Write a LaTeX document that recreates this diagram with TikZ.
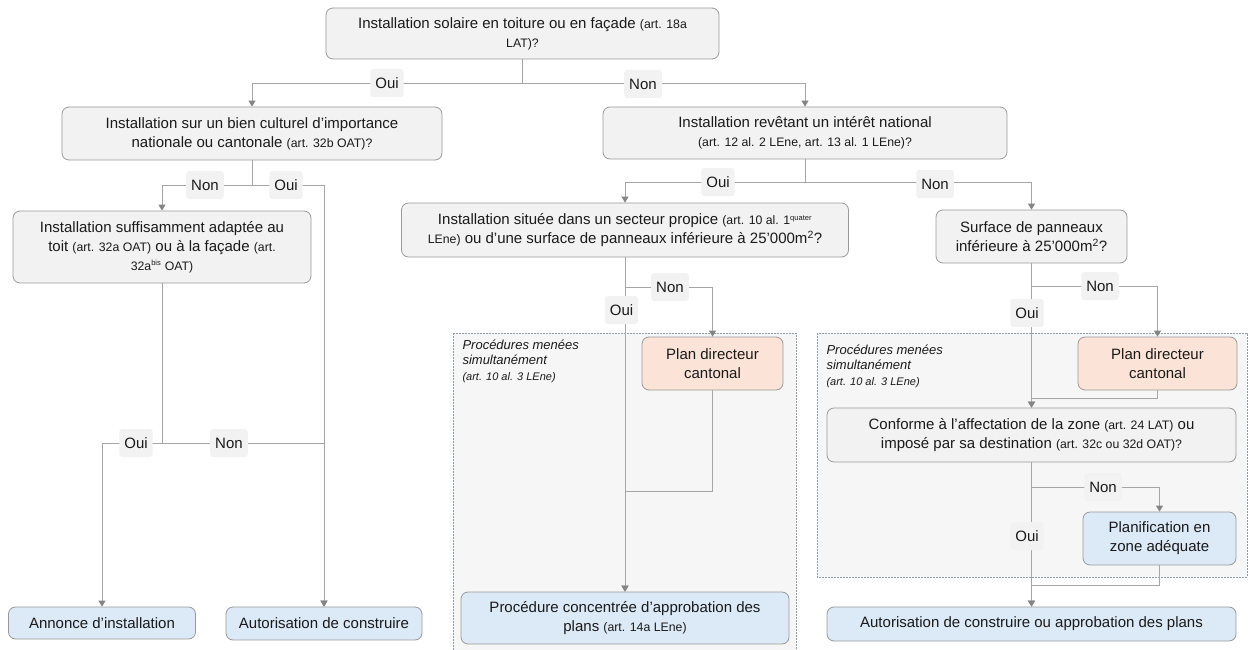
\documentclass[tikz,border=0pt]{standalone}
\usepackage{fontspec}
\setmainfont{Liberation Sans}
\usetikzlibrary{arrows.meta}
\definecolor{boxgray}{HTML}{F2F2F2}
\definecolor{lineg}{HTML}{A6A6A6}
\definecolor{borderg}{HTML}{9A9A9A}
\definecolor{arrowg}{HTML}{858585}
\definecolor{bluef}{HTML}{DCE9F6}
\definecolor{orangef}{HTML}{FBE4D7}
\definecolor{groupf}{HTML}{F6F6F6}
\definecolor{groupb}{HTML}{8E9CA3}
\definecolor{txt}{HTML}{1A1A1A}
\newcommand{\smtxt}[1]{{\fontsize{12.3}{12}\selectfont #1}}
\newcommand{\suptxt}[1]{\textsuperscript{\fontsize{7.5}{8}\selectfont #1}}
\begin{document}
\begin{tikzpicture}[x=1pt,y=-1pt,
  box/.style={draw=borderg, rounded corners=7pt, fill=boxgray, align=center,
    font=\fontsize{15}{19}\selectfont, text=txt, inner sep=2pt, line width=0.8pt},
  bluebox/.style={box, fill=bluef},
  orangebox/.style={box, fill=orangef},
  conn/.style={draw=lineg, line width=0.9pt},
  arr/.style={conn, -{Triangle[width=7pt,length=6pt,color=arrowg]}},
  lab/.style={fill=boxgray, rounded corners=3pt, text=txt, font=\fontsize{15}{16}\selectfont,
    minimum height=28pt, inner xsep=5pt},
  grp/.style={draw=groupb, fill=groupf, line width=0.8pt, dash pattern=on 1.6pt off 1.4pt},
  grplab/.style={anchor=north west, align=left, text=txt, font=\itshape\fontsize{13}{15.5}\selectfont}
]
\useasboundingbox (0,0) rectangle (1250,650);
\fill[white] (0,0) rectangle (1250,650);

% groups
\path[grp] (453,333) rectangle (796,660);
\path[grp] (817,333) rectangle (1247,577);
\node[grplab] (g1lab) at (459,336) {Procédures menées\\simultanément\\{\fontsize{11}{13}\selectfont(art. 10 al. 3 LEne)}};
\node[grplab] (g2lab) at (823,341) {Procédures menées\\simultanément\\{\fontsize{11}{13}\selectfont(art. 10 al. 3 LEne)}};

% boxes
\node[box, minimum width=393pt, minimum height=51pt] (b1) at (522.5,33.5)
  {Installation solaire en toiture ou en façade \smtxt{(art. 18a}\\\smtxt{LAT)?}};
\node[box, minimum width=380pt, minimum height=53pt] (b2) at (252,133.5)
  {Installation sur un bien culturel d’importance\\nationale ou cantonale \smtxt{(art. 32b OAT)?}};
\node[box, minimum width=298pt, minimum height=72pt] (b3) at (162,247)
  {Installation suffisamment adaptée au\\toit \smtxt{(art. 32a OAT)} ou à la façade \smtxt{(art.}\\\smtxt{32a\suptxt{bis} OAT)}};
\node[bluebox, minimum width=187pt, minimum height=32pt] (a1) at (102,623)
  {Annonce d’installation};
\node[bluebox, minimum width=196pt, minimum height=33pt] (a2) at (324,623.5)
  {Autorisation de construire};
\node[box, minimum width=404pt, minimum height=52pt] (b4) at (805,133)
  {Installation revêtant un intérêt national\\\smtxt{(art. 12 al. 2 LEne, art. 13 al. 1 LEne)?}};
\node[box, minimum width=447pt, minimum height=54pt] (b5) at (625,230)
  {Installation située dans un secteur propice \smtxt{(art. 10 al. 1\suptxt{quater}}\\\smtxt{LEne)} ou d’une surface de panneaux inférieure à 25’000m\textsuperscript{2}?};
\node[box, minimum width=191pt, minimum height=53pt] (b6) at (1031.5,236.5)
  {Surface de panneaux\\inférieure à 25’000m\textsuperscript{2}?};
\node[orangebox, minimum width=141pt, minimum height=53pt] (p1) at (712.5,363.5)
  {Plan directeur\\cantonal};
\node[bluebox, minimum width=328pt, minimum height=52pt] (proc) at (625,618)
  {Procédure concentrée d’approbation des\\plans \smtxt{(art. 14a LEne)}};
\node[orangebox, minimum width=159pt, minimum height=53pt] (p2) at (1157.5,363.5)
  {Plan directeur\\cantonal};
\node[box, minimum width=409pt, minimum height=54pt] (conf) at (1031.5,435)
  {Conforme à l’affectation de la zone \smtxt{(art. 24 LAT)} ou\\imposé par sa destination \smtxt{(art. 32c ou 32d OAT)?}};
\node[bluebox, minimum width=153pt, minimum height=53pt] (pf) at (1159.5,538.5)
  {Planification en\\zone adéquate};
\node[bluebox, minimum width=409pt, minimum height=34pt] (fin) at (1031.5,624)
  {Autorisation de construire ou approbation des plans};

% connectors
\draw[arr] (b1.south) -- ++(0,24) -| (b2.north);
\draw[arr] (b1.south) -- ++(0,24) -| (b4.north);
\draw[arr] (b2.south) -- ++(0,25) -| (b3.north);
\draw[arr] (b2.south) -- ++(0,25) -| (a2.north);
\draw[arr] (b3.south) -- ++(0,160) -| (a1.north);
\draw[arr] (b3.south) -- ++(0,160) -| (a2.north);
\draw[arr] (b4.south) -- ++(0,23) -| (b5.north);
\draw[arr] (b4.south) -- ++(0,23) -| (b6.north);
\draw[arr] (b5.south) -- ++(0,30) -| (p1.north);
\draw[arr] (b5.south) -- (proc.north);
\draw[arr] (p1.south) -- ++(0,101) -| (proc.north);
\draw[arr] (b6.south) -- ++(0,23) -| (p2.north);
\draw[arr] (b6.south) -- (conf.north);
\draw[arr] (p2.south) -- ++(0,8) -| (conf.north);
\draw[arr] (conf.south) -- ++(0,25) -| (pf.north);
\draw[arr] (conf.south) -- (fin.north);
\draw[arr] (pf.south) -- ++(0,20) -| (fin.north);

% labels
\node[lab] (l1) at (387,83) {Oui};
\node[lab] (l2) at (643,84) {Non};
\node[lab] (l3) at (205,185) {Non};
\node[lab] (l4) at (286,185) {Oui};
\node[lab] (l5) at (136,443) {Oui};
\node[lab] (l6) at (229,443) {Non};
\node[lab] (l7) at (718,182) {Oui};
\node[lab] (l8) at (935,184) {Non};
\node[lab] (l9) at (670,287) {Non};
\node[lab] (l10) at (621.5,310) {Oui};
\node[lab] (l11) at (1100,286) {Non};
\node[lab] (l12) at (1027,313) {Oui};
\node[lab] (l13) at (1103,487) {Non};
\node[lab] (l14) at (1027,536) {Oui};
\end{tikzpicture}
\end{document}
